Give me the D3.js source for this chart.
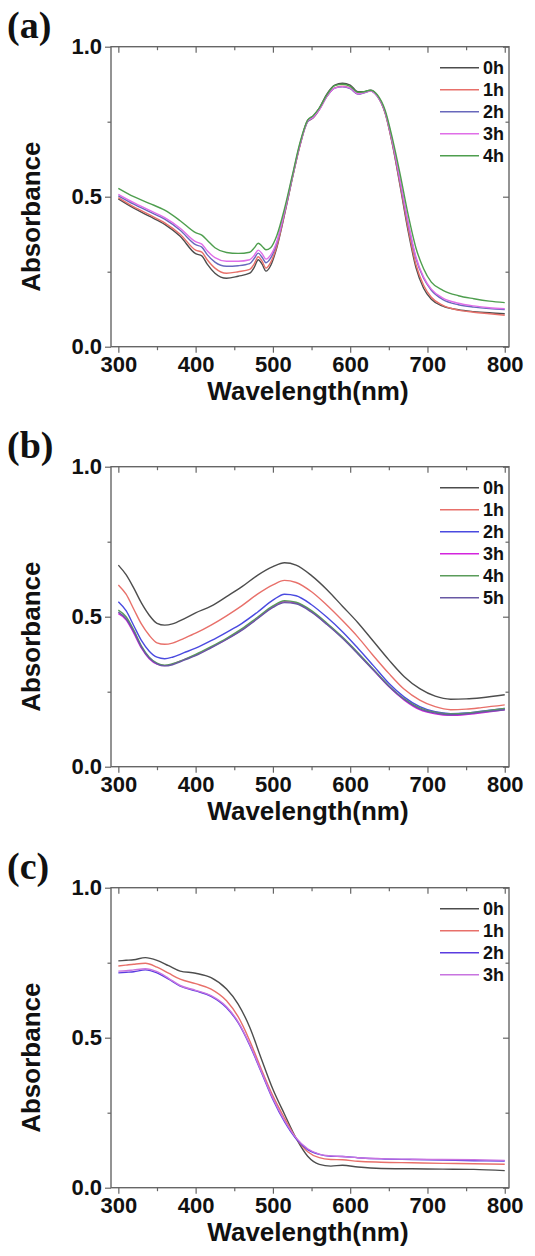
<!DOCTYPE html>
<html>
<head>
<meta charset="utf-8">
<script src="https://cdn.jsdelivr.net/npm/d3@7"></script>
<style>
  body { margin: 0; background: #fff; }
  svg { display: block; }
  .tick text { font-family: "Liberation Sans", Arial, sans-serif; font-weight: bold; font-size: 22px; fill: #111; }
  .tick line { stroke: #666; stroke-width: 1.2; }
  .domain { display: none; }
</style>
</head>
<body>
<svg width="535" height="1256"></svg>
<script>
var width = 535;
var height = 1256;

// axis ticks
var xMajor = [300, 400, 500, 600, 700, 800];
var xMinor = [350, 450, 550, 650, 750];
var yMajor = [0, 0.5, 1.0];
var yMinor = [0.25, 0.75];

// panel (a)
var wlA = [300, 320, 340, 360, 380, 400, 408, 415, 425, 440, 455, 470, 476, 481, 486, 491, 497, 505, 515, 525, 535, 545, 552, 560, 570, 580, 590, 600, 610, 618, 626, 635, 645, 655, 665, 675, 685, 695, 705, 720, 740, 760, 780, 800];
var a0h = [.493, .462, .435, .408, .368, .310, .303, .275, .245, .228, .235, .245, .265, .290, .275, .252, .270, .330, .440, .560, .672, .755, .768, .795, .843, .872, .878, .872, .850, .850, .855, .838, .782, .670, .530, .385, .265, .195, .158, .135, .123, .117, .113, .110];
var a1h = [.497, .466, .440, .413, .375, .322, .315, .290, .262, .245, .250, .258, .277, .300, .285, .262, .280, .335, .442, .560, .670, .750, .762, .790, .835, .863, .868, .862, .843, .847, .853, .835, .780, .672, .535, .395, .275, .205, .165, .138, .122, .115, .110, .105];
var a2h = [.503, .475, .450, .425, .388, .340, .332, .307, .282, .268, .270, .277, .295, .312, .298, .280, .295, .345, .447, .563, .673, .750, .763, .790, .835, .862, .866, .860, .842, .846, .852, .835, .783, .678, .545, .410, .295, .228, .188, .157, .140, .132, .127, .124];
var a3h = [.508, .480, .455, .430, .395, .350, .342, .320, .297, .285, .285, .290, .305, .322, .310, .292, .305, .350, .450, .565, .675, .752, .765, .790, .835, .862, .867, .862, .843, .847, .852, .836, .785, .680, .550, .415, .300, .232, .192, .162, .145, .136, .130, .127];
var a4h = [.528, .500, .478, .455, .420, .380, .372, .355, .330, .314, .311, .315, .330, .345, .335, .323, .330, .370, .460, .570, .680, .755, .770, .795, .840, .870, .875, .868, .848, .850, .855, .840, .790, .690, .570, .440, .330, .260, .215, .188, .170, .160, .152, .147];

// panel (b)
var wlB = [300, 310, 320, 330, 340, 350, 360, 370, 385, 400, 420, 440, 460, 480, 500, 515, 530, 550, 570, 590, 610, 630, 650, 670, 690, 710, 730, 750, 770, 800];
var b0h = [.672, .640, .595, .545, .505, .478, .472, .476, .493, .513, .535, .567, .600, .638, .667, .680, .672, .637, .590, .535, .480, .418, .356, .300, .260, .235, .225, .226, .230, .240];
var b1h = [.606, .575, .525, .475, .438, .413, .408, .412, .428, .445, .472, .503, .537, .575, .606, .621, .614, .583, .538, .487, .432, .370, .311, .258, .222, .200, .190, .192, .197, .206];
var b2h = [.550, .520, .470, .420, .385, .365, .360, .365, .380, .395, .420, .448, .478, .515, .555, .575, .570, .540, .498, .450, .395, .337, .278, .232, .200, .183, .177, .179, .185, .194];
var b3h = [.510, .490, .445, .395, .360, .342, .337, .342, .357, .372, .398, .425, .457, .495, .533, .550, .546, .517, .475, .430, .378, .322, .267, .222, .190, .176, .171, .174, .180, .190];
var b4h = [.522, .500, .455, .402, .365, .345, .338, .343, .357, .374, .400, .428, .460, .498, .536, .553, .548, .520, .478, .432, .380, .325, .270, .226, .196, .182, .176, .178, .184, .194];
var b5h = [.515, .493, .450, .398, .362, .343, .336, .340, .355, .370, .396, .424, .455, .493, .531, .547, .543, .515, .474, .428, .376, .322, .268, .224, .193, .179, .173, .176, .182, .190];

// panel (c)
var wlC = [300, 310, 320, 335, 350, 365, 380, 400, 420, 440, 455, 470, 485, 500, 515, 530, 545, 560, 575, 590, 610, 640, 680, 720, 760, 800];
var c0h = [.756, .758, .760, .767, .758, .740, .722, .715, .700, .662, .612, .535, .430, .328, .245, .165, .105, .078, .072, .075, .069, .064, .063, .062, .061, .057];
var c1h = [.739, .742, .745, .748, .735, .715, .695, .680, .662, .623, .570, .490, .395, .306, .232, .165, .120, .100, .094, .093, .088, .085, .083, .081, .080, .078];
var c2h = [.716, .718, .720, .726, .716, .695, .672, .656, .638, .600, .550, .475, .385, .294, .220, .163, .127, .111, .105, .104, .100, .096, .094, .092, .090, .089];
var c3h = [.722, .723, .726, .730, .720, .698, .674, .658, .640, .603, .553, .478, .388, .298, .224, .166, .130, .112, .106, .104, .100, .097, .095, .094, .093, .091];

var panels = [
    { label: "(a)", top: 46.7, wl: wlA,
      series: [
        { name: "0h", values: a0h, color: "#4d4d4d" },
        { name: "1h", values: a1h, color: "#e8706a" },
        { name: "2h", values: a2h, color: "#6868bc" },
        { name: "3h", values: a3h, color: "#e06ee8" },
        { name: "4h", values: a4h, color: "#4e9e4e" }
      ] },
    { label: "(b)", top: 466.7, wl: wlB,
      series: [
        { name: "0h", values: b0h, color: "#4d4d4d" },
        { name: "1h", values: b1h, color: "#e8706a" },
        { name: "2h", values: b2h, color: "#4a4ae0" },
        { name: "3h", values: b3h, color: "#d424de" },
        { name: "4h", values: b4h, color: "#5a9c5a" },
        { name: "5h", values: b5h, color: "#6858a4" }
      ] },
    { label: "(c)", top: 887.7, wl: wlC,
      series: [
        { name: "0h", values: c0h, color: "#4d4d4d" },
        { name: "1h", values: c1h, color: "#e8706a" },
        { name: "2h", values: c2h, color: "#5a3ce0" },
        { name: "3h", values: c3h, color: "#c874e0" }
      ] }
];

var svg = d3.select("svg");
svg.append("rect").attr("width", width).attr("height", height).attr("fill", "#fff");

var x = d3.scaleLinear().domain([290.5, 805.5]).range([111, 509]);

panels.forEach(function (p) {
    var plotH = 300;
    var y = d3.scaleLinear().domain([0, 1]).range([p.top + plotH, p.top]);
    var g = svg.append("g");

    // frame
    g.append("rect")
        .attr("x", x.range()[0])
        .attr("y", p.top)
        .attr("width", x.range()[1] - x.range()[0])
        .attr("height", plotH)
        .attr("fill", "none")
        .attr("stroke", "#666")
        .attr("stroke-width", 1.4);

    // bottom / left: ticks out, top / right: ticks in
    g.append("g").attr("transform", "translate(0," + (p.top + plotH) + ")")
        .call(d3.axisBottom(x).tickValues(xMajor).tickSize(6).tickPadding(4).tickFormat(d3.format("d")));
    g.append("g").attr("transform", "translate(0," + (p.top + plotH) + ")")
        .call(d3.axisBottom(x).tickValues(xMinor).tickSize(3.5).tickFormat(""));
    g.append("g").attr("transform", "translate(0," + p.top + ")")
        .call(d3.axisTop(x).tickValues(xMajor).tickSize(-6).tickFormat(""));
    g.append("g").attr("transform", "translate(0," + p.top + ")")
        .call(d3.axisTop(x).tickValues(xMinor).tickSize(-3.5).tickFormat(""));
    g.append("g").attr("transform", "translate(" + x.range()[0] + ",0)")
        .call(d3.axisLeft(y).tickValues(yMajor).tickSize(6).tickPadding(3).tickFormat(d3.format(".1f")));
    g.append("g").attr("transform", "translate(" + x.range()[0] + ",0)")
        .call(d3.axisLeft(y).tickValues(yMinor).tickSize(3.5).tickFormat(""));
    g.append("g").attr("transform", "translate(" + x.range()[1] + ",0)")
        .call(d3.axisRight(y).tickValues(yMajor).tickSize(-6).tickFormat(""));
    g.append("g").attr("transform", "translate(" + x.range()[1] + ",0)")
        .call(d3.axisRight(y).tickValues(yMinor).tickSize(-3.5).tickFormat(""));

    // curves
    var line = d3.line()
        .x(function (d, i) { return x(p.wl[i]); })
        .y(function (d) { return y(d); })
        .curve(d3.curveMonotoneX);
    p.series.forEach(function (s) {
        g.append("path")
            .attr("d", line(s.values))
            .attr("fill", "none")
            .attr("stroke", s.color)
            .attr("stroke-width", 1.4);
    });

    // legend
    var leg = g.append("g").attr("transform", "translate(0," + (p.top + 21) + ")");
    p.series.forEach(function (s, i) {
        leg.append("line")
            .attr("x1", 440).attr("x2", 479)
            .attr("y1", i * 22).attr("y2", i * 22)
            .attr("stroke", s.color)
            .attr("stroke-width", 1.5);
        leg.append("text")
            .attr("x", 483)
            .attr("y", i * 22)
            .attr("dy", "0.36em")
            .attr("font-family", "Liberation Sans, Arial, sans-serif")
            .attr("font-weight", "bold")
            .attr("font-size", "18px")
            .attr("fill", "#111")
            .text(s.name);
    });

    // axis titles
    g.append("text")
        .attr("x", 308)
        .attr("y", p.top + plotH + 53)
        .attr("text-anchor", "middle")
        .attr("font-family", "Liberation Sans, Arial, sans-serif")
        .attr("font-weight", "bold")
        .attr("font-size", "26px")
        .attr("fill", "#111")
        .text("Wavelength(nm)");
    g.append("text")
        .attr("transform", "translate(40," + (p.top + 170) + ") rotate(-90)")
        .attr("text-anchor", "middle")
        .attr("font-family", "Liberation Sans, Arial, sans-serif")
        .attr("font-weight", "bold")
        .attr("font-size", "26px")
        .attr("fill", "#111")
        .text("Absorbance");

    // panel label
    g.append("text")
        .attr("x", 7)
        .attr("y", p.top - 9)
        .attr("font-family", "Liberation Serif, Times New Roman, serif")
        .attr("font-weight", "bold")
        .attr("font-size", "38px")
        .attr("fill", "#111")
        .text(p.label);
});
</script>
</body>
</html>
